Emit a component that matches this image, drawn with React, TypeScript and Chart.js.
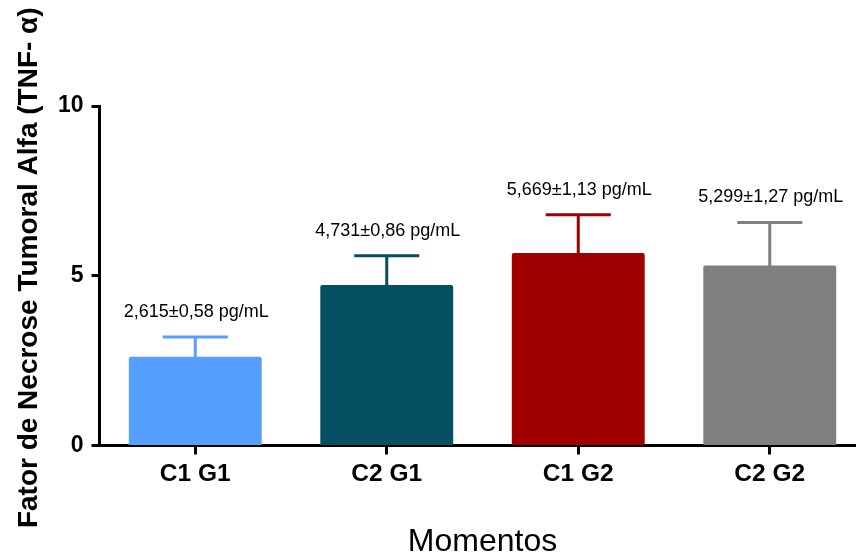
import React, { useEffect, useRef } from "react";
import { Chart, registerables } from "chart.js";

Chart.register(...registerables);

const categories = ["C1 G1", "C2 G1", "C1 G2", "C2 G2"];
const means = [2.615, 4.731, 5.669, 5.299];
const errors = [0.58, 0.86, 1.13, 1.27];
const valueLabels = [
  "2,615±0,58 pg/mL",
  "4,731±0,86 pg/mL",
  "5,669±1,13 pg/mL",
  "5,299±1,27 pg/mL",
];
const barColors = ["#55A0FF", "#044F62", "#A10000", "#808080"];
const yMin = 0;
const yMax = 10;
const yStep = 5;
const yTitle = "Fator de Necrose Tumoral Alfa (TNF- α)";
const xTitle = "Momentos";

const FONT = "'Liberation Sans', Arial, Helvetica, sans-serif";

const errorBarPlugin = {
  id: "errorBars",
  afterDatasetsDraw(chart: any) {
    const ctx = chart.ctx;
    const meta = chart.getDatasetMeta(0);
    const yScale = chart.scales.y;
    ctx.save();
    meta.data.forEach((bar: any, i: number) => {
      const x = bar.x;
      const top = yScale.getPixelForValue(means[i] + errors[i]);
      const half = bar.width * 0.245;
      ctx.strokeStyle = barColors[i];
      ctx.lineWidth = 3;
      ctx.lineCap = "butt";
      ctx.beginPath();
      ctx.moveTo(x, bar.y + 1);
      ctx.lineTo(x, top);
      ctx.stroke();
      ctx.beginPath();
      ctx.moveTo(x - half, top);
      ctx.lineTo(x + half, top);
      ctx.stroke();
      ctx.fillStyle = "#000";
      ctx.font = `18px ${FONT}`;
      ctx.textAlign = "center";
      ctx.textBaseline = "middle";
      ctx.fillText(valueLabels[i], x + 1, top - 25);
    });
    ctx.restore();
  },
  afterDraw(chart: any) {
    const ctx = chart.ctx;
    const area = chart.chartArea;
    ctx.save();
    ctx.translate(29, (area.top + area.bottom) / 2 - 8);
    ctx.rotate(-Math.PI / 2);
    ctx.fillStyle = "#000";
    ctx.font = `bold 28px ${FONT}`;
    ctx.textAlign = "center";
    ctx.textBaseline = "middle";
    ctx.fillText(yTitle, 0, 0);
    ctx.restore();
  },
};

export default function App() {
  const ref = useRef<HTMLCanvasElement | null>(null);

  useEffect(() => {
    const canvas = ref.current;
    if (!canvas) return;
    const chart = new Chart(canvas, {
      type: "bar",
      data: {
        labels: categories,
        datasets: [
          {
            data: means,
            backgroundColor: barColors,
            borderWidth: 0,
            borderRadius: 2,
            borderSkipped: "start",
            barPercentage: 0.694,
            categoryPercentage: 1,
          },
        ],
      },
      options: {
        responsive: false,
        animation: false,
        devicePixelRatio: 1,
        layout: { padding: { top: 106, right: 14.5, left: 0, bottom: 0 } },
        plugins: {
          legend: { display: false },
          tooltip: { enabled: false },
        },
        scales: {
          x: {
            type: "category",
            offset: true,
            border: { display: true, width: 3, color: "#000" },
            grid: {
              offset: false,
              drawOnChartArea: false,
              drawTicks: true,
              tickLength: 9,
              tickWidth: 3,
              tickColor: "#000",
            },
            ticks: {
              color: "#000",
              font: { family: FONT, size: 24.5, weight: "bold" },
              padding: 5,
              maxRotation: 0,
            },
            title: {
              display: true,
              text: xTitle,
              color: "#000",
              font: { family: FONT, size: 32, weight: "normal", lineHeight: 1 },
              padding: { top: 0, bottom: 1 },
            },
            afterFit(scale: any) {
              scale.height = 113.5;
            },
          },
          y: {
            min: yMin,
            max: yMax,
            border: { display: true, width: 3, color: "#000" },
            grid: {
              drawOnChartArea: false,
              drawTicks: true,
              tickLength: 8,
              tickWidth: 3,
              tickColor: "#000",
            },
            ticks: {
              stepSize: yStep,
              color: "#000",
              font: { family: FONT, size: 23, weight: "bold" },
              padding: 8,
            },
            title: { display: false },
            afterFit(scale: any) {
              scale.width = 99.5;
            },
          },
        },
      },
      plugins: [errorBarPlugin],
    });
    return () => chart.destroy();
  }, []);

  return (
    <div
      style={{
        position: "fixed",
        left: 0,
        top: 0,
        width: 856,
        height: 559,
        overflow: "hidden",
        background: "#fff",
      }}
    >
      <canvas
        ref={ref}
        width={880}
        height={559}
        style={{ display: "block", width: 880, height: 559 }}
      />
    </div>
  );
}
